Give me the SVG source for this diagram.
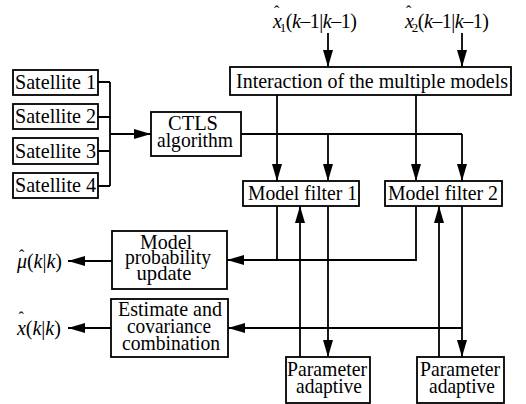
<svg xmlns="http://www.w3.org/2000/svg" width="526" height="404" viewBox="0 0 526 404">
  <style>
    .box { fill: #ffffff; stroke: #000000; stroke-width: 1.8; }
    .lbl { font-family: "Liberation Serif", "Times New Roman", serif; font-size: 21px; fill: #000000; }
    .mid { text-anchor: middle; }
    .it { font-style: italic; }
    .sub { font-size: 13px; }
    .hat { font-size: 16px; font-style: normal; }
    .wire { fill: none; stroke: #000000; stroke-width: 1.8; }
    .arr { fill: none; stroke: #000000; stroke-width: 1.8; marker-end: url(#head); }
  </style>
  <defs>
    <marker id="head" viewBox="0 0 17 10" refX="17" refY="5" markerWidth="17" markerHeight="10" markerUnits="userSpaceOnUse" orient="auto">
      <path d="M0,0 L17,5 L0,10 Z" fill="#000000"/>
    </marker>
  </defs>
  <rect width="526" height="404" fill="#ffffff"/>

  <!-- connectors -->
  <g id="connectors">
    <!-- satellites into CTLS -->
    <path class="wire" d="M98,82 H110 M98,117 H110 M98,151 H110 M98,186 H110 M110,82 V186"/>
    <path class="arr" d="M110,134 H151"/>
    <!-- state inputs into interaction -->
    <path class="arr" d="M328,33 V67"/>
    <path class="arr" d="M462,33 V67"/>
    <!-- interaction to filters -->
    <path class="arr" d="M277,95 V181"/>
    <path class="arr" d="M416,95 V181"/>
    <!-- CTLS output to filters -->
    <path class="wire" d="M241,134 H462"/>
    <path class="arr" d="M328,134 V181"/>
    <path class="arr" d="M462,134 V181"/>
    <!-- filters to model probability update -->
    <path class="wire" d="M277,206 V260 M416,206 V260 H277"/>
    <path class="arr" d="M277,260 H227"/>
    <!-- parameter adaptive loops -->
    <path class="arr" d="M300,357 V206"/>
    <path class="arr" d="M439,357 V206"/>
    <path class="arr" d="M328,206 V357"/>
    <path class="arr" d="M462,206 V357"/>
    <!-- filter 2 to estimate combination -->
    <path class="arr" d="M462,328 H228"/>
    <!-- outputs -->
    <path class="arr" d="M112,261 H68"/>
    <path class="arr" d="M111,328 H68"/>
  </g>

  <g id="sat1"><rect class="box" x="13" y="70" width="85" height="25"/><text class="lbl mid" x="55.5" y="89" textLength="81" lengthAdjust="spacingAndGlyphs">Satellite 1</text></g>
  <g id="sat2"><rect class="box" x="13" y="104" width="85" height="25"/><text class="lbl mid" x="55.5" y="123" textLength="81" lengthAdjust="spacingAndGlyphs">Satellite 2</text></g>
  <g id="sat3"><rect class="box" x="13" y="138" width="85" height="26"/><text class="lbl mid" x="55.5" y="158" textLength="81" lengthAdjust="spacingAndGlyphs">Satellite 3</text></g>
  <g id="sat4"><rect class="box" x="13" y="173" width="85" height="25"/><text class="lbl mid" x="55.5" y="192" textLength="81" lengthAdjust="spacingAndGlyphs">Satellite 4</text></g>

  <g id="ctls"><rect class="box" x="151" y="112" width="90" height="44"/>
    <text class="lbl mid" x="193" y="130" textLength="50" lengthAdjust="spacingAndGlyphs">CTLS</text>
    <text class="lbl mid" x="195" y="147" textLength="76" lengthAdjust="spacingAndGlyphs">algorithm</text></g>

  <g id="interaction"><rect class="box" x="230" y="67" width="281" height="28"/>
    <text class="lbl mid" x="372" y="88" textLength="272" lengthAdjust="spacingAndGlyphs">Interaction of the multiple models</text></g>

  <g id="filter1"><rect class="box" x="243" y="181" width="116" height="25"/><text class="lbl mid" x="302.5" y="200" textLength="109" lengthAdjust="spacingAndGlyphs">Model filter 1</text></g>
  <g id="filter2"><rect class="box" x="385" y="181" width="117" height="25"/><text class="lbl mid" x="443" y="200" textLength="110" lengthAdjust="spacingAndGlyphs">Model filter 2</text></g>

  <g id="prob-update"><rect class="box" x="112" y="231" width="115" height="58"/>
    <text class="lbl mid" x="166" y="249" textLength="52" lengthAdjust="spacingAndGlyphs">Model</text>
    <text class="lbl mid" x="168" y="264" textLength="86" lengthAdjust="spacingAndGlyphs">probability</text>
    <text class="lbl mid" x="164" y="280" textLength="55" lengthAdjust="spacingAndGlyphs">update</text></g>

  <g id="combination"><rect class="box" x="111" y="299" width="117" height="58"/>
    <text class="lbl mid" x="170" y="316" textLength="104" lengthAdjust="spacingAndGlyphs">Estimate and</text>
    <text class="lbl mid" x="169" y="333" textLength="84" lengthAdjust="spacingAndGlyphs">covariance</text>
    <text class="lbl mid" x="171" y="350" textLength="98" lengthAdjust="spacingAndGlyphs">combination</text></g>

  <g id="param1"><rect class="box" x="286" y="357" width="84" height="46"/>
    <text class="lbl mid" x="327" y="376" textLength="80" lengthAdjust="spacingAndGlyphs">Parameter</text>
    <text class="lbl mid" x="329" y="393" textLength="66" lengthAdjust="spacingAndGlyphs">adaptive</text></g>
  <g id="param2"><rect class="box" x="417" y="357" width="87" height="46"/>
    <text class="lbl mid" x="460" y="376" textLength="80" lengthAdjust="spacingAndGlyphs">Parameter</text>
    <text class="lbl mid" x="462" y="393" textLength="66" lengthAdjust="spacingAndGlyphs">adaptive</text></g>

  <!-- input state labels; the hat is a raised circumflex tspan -->
  <g id="x1-in">
    <text class="lbl" x="273" y="28" style="font-size:20px;letter-spacing:-0.5px"><tspan class="it">x</tspan><tspan class="hat" dx="-7.5" dy="-11">ˆ</tspan><tspan class="sub" dx="1" dy="15">1</tspan><tspan dy="-4">(</tspan><tspan class="it">k</tspan>–1|<tspan class="it">k</tspan>–1)</text>
  </g>
  <g id="x2-in">
    <text class="lbl" x="405" y="28" style="font-size:20px;letter-spacing:-0.5px"><tspan class="it">x</tspan><tspan class="hat" dx="-7.5" dy="-11">ˆ</tspan><tspan class="sub" dx="1" dy="15">2</tspan><tspan dy="-4">(</tspan><tspan class="it">k</tspan>–1|<tspan class="it">k</tspan>–1)</text>
  </g>

  <!-- output labels -->
  <g id="mu-out">
    <text class="lbl" x="17" y="268" style="font-size:20px"><tspan class="it">μ</tspan><tspan class="hat" dx="-8" dy="-7">ˆ</tspan><tspan dx="2.5" dy="7">(</tspan><tspan class="it">k</tspan>|<tspan class="it">k</tspan>)</text>
  </g>
  <g id="x-out">
    <text class="lbl" x="17" y="335" style="font-size:20px"><tspan class="it">x</tspan><tspan class="hat" dx="-7.5" dy="-12">ˆ</tspan><tspan dx="2" dy="12">(</tspan><tspan class="it">k</tspan>|<tspan class="it">k</tspan>)</text>
  </g>
</svg>
